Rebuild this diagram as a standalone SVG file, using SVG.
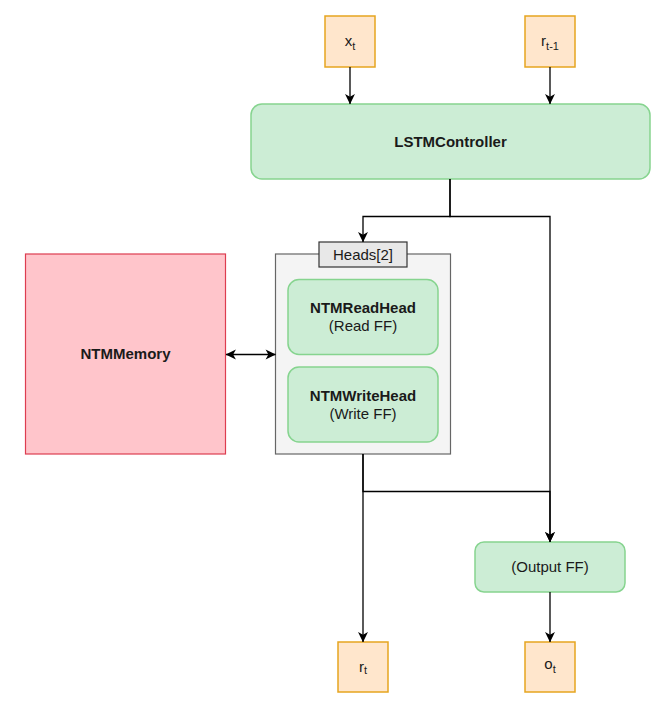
<svg xmlns="http://www.w3.org/2000/svg" width="665" height="713" viewBox="0 0 665 713">
<defs>
<marker id="arr" viewBox="0 0 10 10" refX="9.5" refY="5" markerWidth="11" markerHeight="11" markerUnits="userSpaceOnUse" orient="auto-start-reverse">
<path d="M0.5,0.5 L9.8,5 L0.5,9.5 L3,5 Z" fill="#000"/>
</marker>
<style>
text{font-family:"Liberation Sans",Arial,sans-serif;font-size:15px;fill:#1a1a1a;text-anchor:middle}
.b{font-weight:bold}
.io{fill:#ffe6cc;stroke:#e6a51f;stroke-width:1.5}
.g{fill:#ccedd5;stroke:#86d48f;stroke-width:1.5}
.mem{fill:#ffc5cb;stroke:#dd3d50;stroke-width:1.2}
.cont{fill:#f4f4f4;stroke:#666;stroke-width:1.2}
.lab{fill:#e8e8e8;stroke:#333;stroke-width:1.2}
.c path{fill:none;stroke:#000;stroke-width:1.3}
.sub{font-size:11px}
</style>
</defs>
<g id="nodes">
<g id="x_t"><rect class="io" x="325" y="16" width="50" height="51"/><text x="350" y="46">x<tspan class="sub" dy="4">t</tspan></text></g>
<g id="r_tm1"><rect class="io" x="525" y="16" width="50" height="51"/><text x="550" y="46">r<tspan class="sub" dy="4">t-1</tspan></text></g>
<g id="controller"><rect class="g" x="251" y="104" width="399" height="75" rx="11"/><text class="b" x="450.5" y="146.5">LSTMController</text></g>
<g id="memory"><rect class="mem" x="25.5" y="254" width="200" height="200"/><text class="b" x="125.5" y="359">NTMMemory</text></g>
<g id="heads"><rect class="cont" x="275.5" y="254" width="175" height="200"/><rect class="lab" x="319" y="242" width="88" height="25"/><text x="363" y="259.5">Heads[2]</text>
<g id="readhead"><rect class="g" x="288" y="279.5" width="150" height="75" rx="11"/><text x="363" y="313" class="b">NTMReadHead</text><text x="363" y="331">(Read FF)</text></g>
<g id="writehead"><rect class="g" x="288" y="367" width="150" height="75" rx="11"/><text x="363" y="400.5" class="b">NTMWriteHead</text><text x="363" y="418.5">(Write FF)</text></g>
</g>
<g id="outputff"><rect class="g" x="475" y="542" width="150" height="50" rx="9"/><text x="550" y="572">(Output FF)</text></g>
<g id="r_t"><rect class="io" x="338" y="642" width="50" height="50"/><text x="363" y="672">r<tspan class="sub" dy="2">t</tspan></text></g>
<g id="o_t"><rect class="io" x="525" y="642" width="50" height="50"/><text x="550" y="669">o<tspan class="sub" dy="4">t</tspan></text></g>
</g>
<g id="connectors" class="c">
<path d="M350,67 V104" marker-end="url(#arr)"/>
<path d="M550,67 V104" marker-end="url(#arr)"/>
<path d="M450,179 V216.5 H363 V242" marker-end="url(#arr)"/>
<path d="M450,179 V216.5 H550 V542" marker-end="url(#arr)"/>
<path d="M226,354.5 H275.5" marker-start="url(#arr)" marker-end="url(#arr)"/>
<path d="M363,454 V642" marker-end="url(#arr)"/>
<path d="M363,454 V491.5 H550 V542" marker-end="url(#arr)"/>
<path d="M550,592 V642" marker-end="url(#arr)"/>
</g>
</svg>
